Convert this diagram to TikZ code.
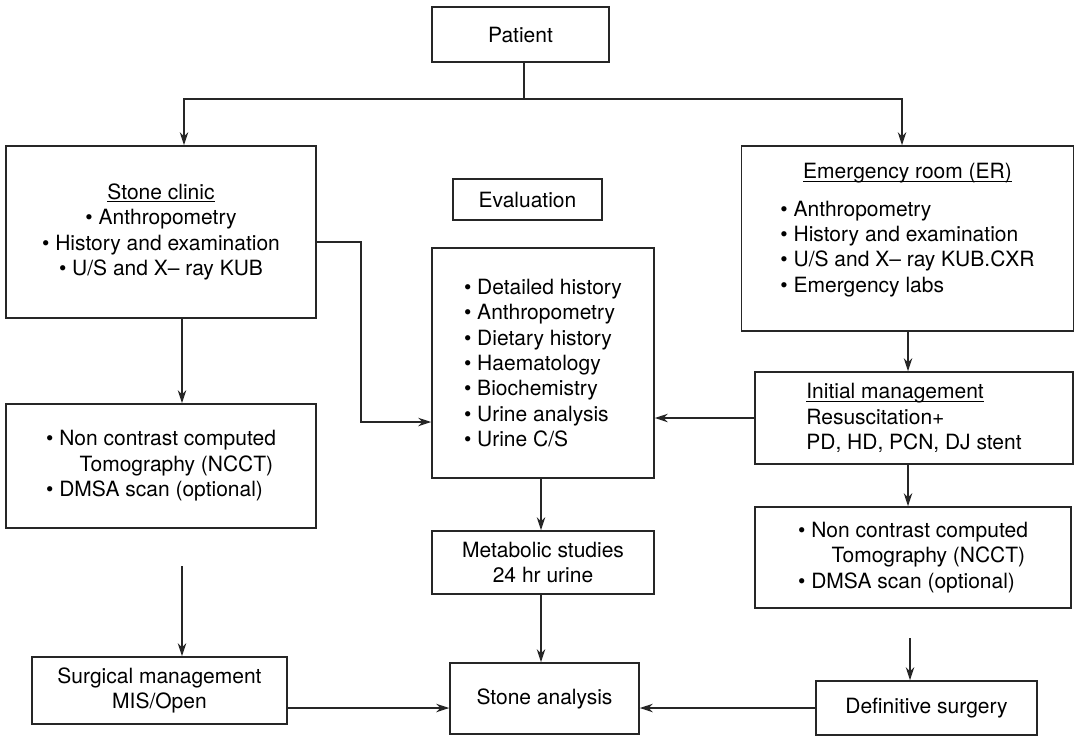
\documentclass[tikz,border=0pt]{standalone}
\usepackage{fontspec}
\setmainfont{TeX Gyre Heros}
\usetikzlibrary{arrows.meta,positioning}
\newcommand{\undl}[1]{\setbox0\hbox{#1}\rlap{\rule[-1.4pt]{\wd0}{0.5pt}}\box0}
\newcommand{\ncct}{\textbullet\ Non contrast computed\\ \hspace*{1.6em}Tomography (NCCT)\\ \textbullet\ DMSA scan (optional)}

\begin{document}
\begin{tikzpicture}[x=0.5pt,y=-0.5pt,line width=0.75pt,
   >={Stealth[length=6.5pt,width=4.2pt,inset=2pt]},
   every edge/.style={draw=black!85,line width=0.75pt},
   box/.style={draw=black!85,rectangle,inner sep=0pt,font=\fontsize{10.5}{12.7}\selectfont},
   sz/.style 2 args={minimum width=#1*0.5pt,minimum height=#2*0.5pt}]
   \useasboundingbox (0,0) rectangle (1075,736);
   \node[box,sz={177}{55}] (patient) at (520.5,34.5) {Patient};
   \node[box,sz={310}{172},align=center] (clinic) at (161,232)
      {\undl{Stone clinic}\\ \textbullet\ Anthropometry\\ \textbullet\ History and examination\\ \textbullet\ U/S and X-- ray KUB};
   \node[box,sz={332}{185}] (er) at (907.5,238.5)
      {\begin{tabular}{@{}l@{}}\multicolumn{1}{@{}c@{}}{\undl{Emergency room (ER)}}\\[6pt]
       \textbullet\ Anthropometry\\ \textbullet\ History and examination\\ \textbullet\ U/S and X-- ray KUB.CXR\\ \textbullet\ Emergency labs\\[8pt]\end{tabular}};
   \node[box,sz={149}{41}] (eval) at (527.5,199.5) {Evaluation};
   \node[box,sz={222}{230},align=left] (work) at (543,363)
      {\textbullet\ Detailed history\\ \textbullet\ Anthropometry\\ \textbullet\ Dietary history\\ \textbullet\ Haematology\\
       \textbullet\ Biochemistry\\ \textbullet\ Urine analysis\\ \textbullet\ Urine C/S};
   \node[box,sz={310}{124},align=left] (nccta) at (161,466) {\ncct};
   \node[box,sz={318}{92},align=left] (init) at (914,418)
      {\undl{Initial management}\\ Resuscitation+\\ PD, HD, PCN, DJ stent};
   \node[box,sz={316}{101},align=left] (ncctb) at (913,557.5) {\ncct};
   \node[box,sz={222}{63},align=center] (meta) at (543,562.5) {Metabolic studies\\ 24 hr urine};
   \node[box,sz={255}{67},align=center] (surg) at (159.5,690.5) {Surgical management\\ MIS/Open};
   \node[box,sz={189}{71}] (anal) at (544.5,698.5) {Stone analysis};
   \node[box,sz={221}{54}] (defin) at (926.5,708) {Definitive surgery};

   \coordinate (split) at (524,99);
   \coordinate (cl) at (184,99);
   \coordinate (cr) at (902,99);
   \coordinate (bend) at (361,242);
   \coordinate (bend2) at (361,422);
   \coordinate (lx) at (182,0);
   \coordinate (mx) at (541,0);
   \coordinate (rx) at (908,0);
   \coordinate (freeL) at (182,566);
   \coordinate (freeR) at (910,638);

   \draw[black!85] (patient.south -| split) -- (split);
   \draw[black!85,->] (split) -- (cl) -- (cl |- clinic.north);
   \draw[black!85,->] (split) -- (cr) -- (cr |- er.north);
   \draw[black!85,->] (clinic.east |- bend) -- (bend) -- (bend2) -- (bend2 -| work.west);
   \path[->]
      (lx |- clinic.south) edge (lx |- nccta.north)
      (freeL) edge (freeL |- surg.north)
      (surg.east |- defin.west) edge (anal.west |- defin.west)
      (mx |- work.south) edge (mx |- meta.north)
      (mx |- meta.south) edge (mx |- anal.north)
      (rx |- er.south) edge (rx |- init.north)
      (init.west) edge (init.west -| work.east)
      (rx |- init.south) edge (rx |- ncctb.north)
      (freeR) edge (freeR |- defin.north)
      (defin.west) edge (defin.west -| anal.east);
\end{tikzpicture}
\end{document}
